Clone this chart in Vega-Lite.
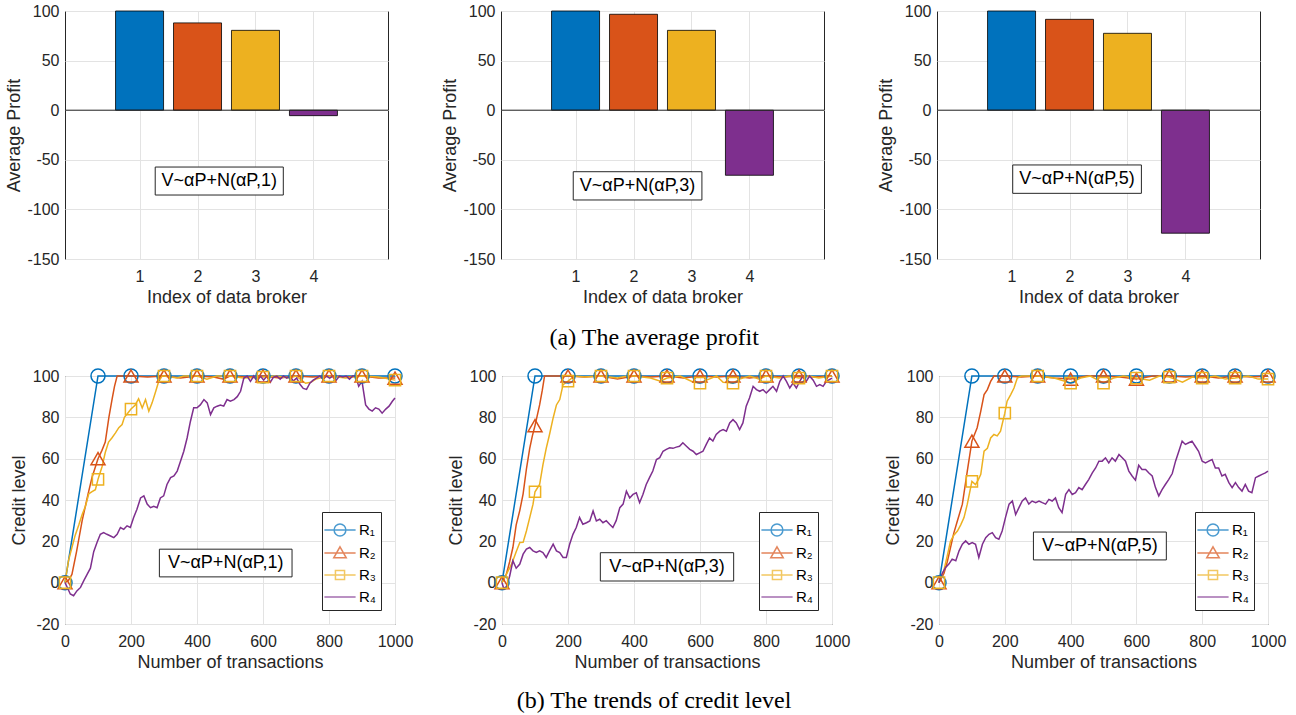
{
"$schema": "https://vega.github.io/schema/vega-lite/v6.json",
"padding": {"left": 5, "top": 2, "right": 5, "bottom": 5},
"config": {
 "font": "Liberation Sans",
 "view": {"stroke": "#262626", "strokeWidth": 1},
 "axis": {"domain": false, "ticks": false, "tickSize": 0, "grid": true, "gridColor": "#e3e3e3", "gridWidth": 1, "labelFont": "Liberation Sans", "labelFontSize": 16, "labelColor": "#262626", "titleFont": "Liberation Sans", "titleFontSize": 18, "titleFontWeight": "normal", "titleColor": "#262626", "labelPadding": 9, "titlePadding": 4, "labelFlush": false},
 "axisY": {"labelPadding": 6, "titlePadding": 3},
 "legend": {"orient": "bottom-right", "offset": 14, "strokeColor": "#262626", "fillColor": "#ffffff", "padding": 5, "symbolSize": 576, "symbolStrokeWidth": 1.5, "labelFontSize": 15, "labelColor": "#000000", "labelFont": "Liberation Sans", "rowPadding": 1, "labelOffset": 6, "cornerRadius": 0}
},
"datasets": {
 "bars": [
  {"g":1,"b":1,"v":100},{"g":1,"b":2,"v":88},{"g":1,"b":3,"v":80.5},{"g":1,"b":4,"v":-5.5},
  {"g":2,"b":1,"v":100},{"g":2,"b":2,"v":96.7},{"g":2,"b":3,"v":80.5},{"g":2,"b":4,"v":-65.6},
  {"g":3,"b":1,"v":100},{"g":3,"b":2,"v":91.6},{"g":3,"b":3,"v":77.5},{"g":3,"b":4,"v":-124}
 ],
 "lines": [
  {"g":1,"s":"R₁","x":0,"y":0},{"g":1,"s":"R₁","x":100,"y":100},{"g":1,"s":"R₁","x":200,"y":100},{"g":1,"s":"R₁","x":300,"y":100},{"g":1,"s":"R₁","x":400,"y":100},{"g":1,"s":"R₁","x":500,"y":100},{"g":1,"s":"R₁","x":600,"y":100},{"g":1,"s":"R₁","x":700,"y":100},{"g":1,"s":"R₁","x":800,"y":100},{"g":1,"s":"R₁","x":900,"y":100},{"g":1,"s":"R₁","x":1000,"y":100},
  {"g":1,"s":"R₂","x":0,"y":0},{"g":1,"s":"R₂","x":10,"y":1},{"g":1,"s":"R₂","x":21,"y":4},{"g":1,"s":"R₂","x":35,"y":15},{"g":1,"s":"R₂","x":52,"y":30},{"g":1,"s":"R₂","x":70,"y":43},{"g":1,"s":"R₂","x":82,"y":51},{"g":1,"s":"R₂","x":100,"y":60},{"g":1,"s":"R₂","x":112,"y":64},{"g":1,"s":"R₂","x":122,"y":68},{"g":1,"s":"R₂","x":133,"y":80},{"g":1,"s":"R₂","x":143,"y":89},{"g":1,"s":"R₂","x":150,"y":95},{"g":1,"s":"R₂","x":158,"y":100},{"g":1,"s":"R₂","x":200,"y":100},{"g":1,"s":"R₂","x":250,"y":99.5},{"g":1,"s":"R₂","x":300,"y":100},{"g":1,"s":"R₂","x":350,"y":99},{"g":1,"s":"R₂","x":400,"y":100},{"g":1,"s":"R₂","x":450,"y":99.5},{"g":1,"s":"R₂","x":480,"y":98.5},{"g":1,"s":"R₂","x":500,"y":100},{"g":1,"s":"R₂","x":550,"y":99.5},{"g":1,"s":"R₂","x":600,"y":100},{"g":1,"s":"R₂","x":650,"y":99},{"g":1,"s":"R₂","x":700,"y":100},{"g":1,"s":"R₂","x":750,"y":99.5},{"g":1,"s":"R₂","x":800,"y":100},{"g":1,"s":"R₂","x":850,"y":99.5},{"g":1,"s":"R₂","x":900,"y":100},{"g":1,"s":"R₂","x":950,"y":99},{"g":1,"s":"R₂","x":1000,"y":99},
  {"g":1,"s":"R₃","x":0,"y":0},{"g":1,"s":"R₃","x":11,"y":11},{"g":1,"s":"R₃","x":21,"y":17},{"g":1,"s":"R₃","x":31,"y":23},{"g":1,"s":"R₃","x":42,"y":28},{"g":1,"s":"R₃","x":52,"y":33},{"g":1,"s":"R₃","x":62,"y":37},{"g":1,"s":"R₃","x":72,"y":43},{"g":1,"s":"R₃","x":82,"y":44},{"g":1,"s":"R₃","x":92,"y":45},{"g":1,"s":"R₃","x":100,"y":50},{"g":1,"s":"R₃","x":112,"y":56},{"g":1,"s":"R₃","x":122,"y":63},{"g":1,"s":"R₃","x":132,"y":68},{"g":1,"s":"R₃","x":142,"y":70},{"g":1,"s":"R₃","x":153,"y":72.5},{"g":1,"s":"R₃","x":163,"y":75},{"g":1,"s":"R₃","x":173,"y":76.5},{"g":1,"s":"R₃","x":180,"y":80},{"g":1,"s":"R₃","x":190,"y":82},{"g":1,"s":"R₃","x":200,"y":84},{"g":1,"s":"R₃","x":213,"y":86},{"g":1,"s":"R₃","x":223,"y":89},{"g":1,"s":"R₃","x":234,"y":84.5},{"g":1,"s":"R₃","x":244,"y":88.6},{"g":1,"s":"R₃","x":254,"y":83},{"g":1,"s":"R₃","x":264,"y":87},{"g":1,"s":"R₃","x":275,"y":92.6},{"g":1,"s":"R₃","x":284,"y":97.4},{"g":1,"s":"R₃","x":294,"y":100},{"g":1,"s":"R₃","x":300,"y":100},{"g":1,"s":"R₃","x":340,"y":99},{"g":1,"s":"R₃","x":360,"y":100},{"g":1,"s":"R₃","x":400,"y":100},{"g":1,"s":"R₃","x":430,"y":98.5},{"g":1,"s":"R₃","x":460,"y":100},{"g":1,"s":"R₃","x":500,"y":100},{"g":1,"s":"R₃","x":540,"y":99},{"g":1,"s":"R₃","x":600,"y":99.5},{"g":1,"s":"R₃","x":640,"y":100},{"g":1,"s":"R₃","x":680,"y":99},{"g":1,"s":"R₃","x":700,"y":100},{"g":1,"s":"R₃","x":729,"y":96.5},{"g":1,"s":"R₃","x":745,"y":97},{"g":1,"s":"R₃","x":760,"y":98.5},{"g":1,"s":"R₃","x":800,"y":100},{"g":1,"s":"R₃","x":850,"y":99},{"g":1,"s":"R₃","x":900,"y":100},{"g":1,"s":"R₃","x":950,"y":99.5},{"g":1,"s":"R₃","x":1000,"y":98},
  {"g":1,"s":"R₄","x":0,"y":0},{"g":1,"s":"R₄","x":6,"y":-2},{"g":1,"s":"R₄","x":16,"y":-5.5},{"g":1,"s":"R₄","x":26,"y":-6.3},{"g":1,"s":"R₄","x":36,"y":-4},{"g":1,"s":"R₄","x":47,"y":-2.3},{"g":1,"s":"R₄","x":57,"y":1},{"g":1,"s":"R₄","x":67,"y":4},{"g":1,"s":"R₄","x":77,"y":7},{"g":1,"s":"R₄","x":87,"y":15},{"g":1,"s":"R₄","x":97,"y":19.4},{"g":1,"s":"R₄","x":107,"y":23.4},{"g":1,"s":"R₄","x":117,"y":24.2},{"g":1,"s":"R₄","x":127,"y":23.4},{"g":1,"s":"R₄","x":138,"y":22.6},{"g":1,"s":"R₄","x":148,"y":21.8},{"g":1,"s":"R₄","x":158,"y":23.4},{"g":1,"s":"R₄","x":168,"y":26.7},{"g":1,"s":"R₄","x":178,"y":25.8},{"g":1,"s":"R₄","x":188,"y":27.5},{"g":1,"s":"R₄","x":198,"y":26.7},{"g":1,"s":"R₄","x":208,"y":31.5},{"g":1,"s":"R₄","x":218,"y":35.5},{"g":1,"s":"R₄","x":229,"y":41},{"g":1,"s":"R₄","x":239,"y":42},{"g":1,"s":"R₄","x":249,"y":38},{"g":1,"s":"R₄","x":259,"y":36.3},{"g":1,"s":"R₄","x":269,"y":37},{"g":1,"s":"R₄","x":279,"y":36.3},{"g":1,"s":"R₄","x":289,"y":41},{"g":1,"s":"R₄","x":299,"y":42},{"g":1,"s":"R₄","x":309,"y":47.5},{"g":1,"s":"R₄","x":320,"y":50.8},{"g":1,"s":"R₄","x":330,"y":51.6},{"g":1,"s":"R₄","x":340,"y":54},{"g":1,"s":"R₄","x":350,"y":58.8},{"g":1,"s":"R₄","x":360,"y":63.6},{"g":1,"s":"R₄","x":370,"y":70},{"g":1,"s":"R₄","x":380,"y":78},{"g":1,"s":"R₄","x":390,"y":84.6},{"g":1,"s":"R₄","x":400,"y":84.6},{"g":1,"s":"R₄","x":410,"y":86},{"g":1,"s":"R₄","x":421,"y":88.6},{"g":1,"s":"R₄","x":431,"y":87},{"g":1,"s":"R₄","x":441,"y":81.3},{"g":1,"s":"R₄","x":451,"y":84.6},{"g":1,"s":"R₄","x":461,"y":85.4},{"g":1,"s":"R₄","x":471,"y":86},{"g":1,"s":"R₄","x":481,"y":85.4},{"g":1,"s":"R₄","x":491,"y":88.6},{"g":1,"s":"R₄","x":501,"y":87.8},{"g":1,"s":"R₄","x":512,"y":88.6},{"g":1,"s":"R₄","x":522,"y":90},{"g":1,"s":"R₄","x":532,"y":92.6},{"g":1,"s":"R₄","x":542,"y":99},{"g":1,"s":"R₄","x":552,"y":100},{"g":1,"s":"R₄","x":562,"y":97.4},{"g":1,"s":"R₄","x":572,"y":100},{"g":1,"s":"R₄","x":582,"y":97.4},{"g":1,"s":"R₄","x":592,"y":100},{"g":1,"s":"R₄","x":602,"y":98},{"g":1,"s":"R₄","x":612,"y":100},{"g":1,"s":"R₄","x":622,"y":97},{"g":1,"s":"R₄","x":632,"y":99.5},{"g":1,"s":"R₄","x":642,"y":100},{"g":1,"s":"R₄","x":652,"y":98.5},{"g":1,"s":"R₄","x":662,"y":100},{"g":1,"s":"R₄","x":672,"y":99},{"g":1,"s":"R₄","x":682,"y":100},{"g":1,"s":"R₄","x":692,"y":97.5},{"g":1,"s":"R₄","x":702,"y":99},{"g":1,"s":"R₄","x":712,"y":96},{"g":1,"s":"R₄","x":722,"y":94},{"g":1,"s":"R₄","x":732,"y":93.5},{"g":1,"s":"R₄","x":742,"y":96.5},{"g":1,"s":"R₄","x":752,"y":98},{"g":1,"s":"R₄","x":762,"y":99},{"g":1,"s":"R₄","x":772,"y":100},{"g":1,"s":"R₄","x":782,"y":98.5},{"g":1,"s":"R₄","x":792,"y":100},{"g":1,"s":"R₄","x":802,"y":99},{"g":1,"s":"R₄","x":812,"y":100},{"g":1,"s":"R₄","x":822,"y":98},{"g":1,"s":"R₄","x":832,"y":100},{"g":1,"s":"R₄","x":842,"y":99.5},{"g":1,"s":"R₄","x":852,"y":100},{"g":1,"s":"R₄","x":862,"y":98.5},{"g":1,"s":"R₄","x":872,"y":100},{"g":1,"s":"R₄","x":881,"y":100},{"g":1,"s":"R₄","x":890,"y":95},{"g":1,"s":"R₄","x":900,"y":97.4},{"g":1,"s":"R₄","x":911,"y":86},{"g":1,"s":"R₄","x":921,"y":84},{"g":1,"s":"R₄","x":931,"y":83},{"g":1,"s":"R₄","x":941,"y":84.6},{"g":1,"s":"R₄","x":951,"y":84},{"g":1,"s":"R₄","x":961,"y":82},{"g":1,"s":"R₄","x":972,"y":84},{"g":1,"s":"R₄","x":982,"y":85.4},{"g":1,"s":"R₄","x":992,"y":87.8},{"g":1,"s":"R₄","x":1000,"y":89.4},

  {"g":2,"s":"R₁","x":0,"y":0},{"g":2,"s":"R₁","x":100,"y":100},{"g":2,"s":"R₁","x":200,"y":100},{"g":2,"s":"R₁","x":300,"y":100},{"g":2,"s":"R₁","x":400,"y":100},{"g":2,"s":"R₁","x":500,"y":100},{"g":2,"s":"R₁","x":600,"y":100},{"g":2,"s":"R₁","x":700,"y":100},{"g":2,"s":"R₁","x":800,"y":100},{"g":2,"s":"R₁","x":900,"y":100},{"g":2,"s":"R₁","x":1000,"y":100},
  {"g":2,"s":"R₂","x":0,"y":0},{"g":2,"s":"R₂","x":13,"y":4},{"g":2,"s":"R₂","x":23,"y":10},{"g":2,"s":"R₂","x":33,"y":17},{"g":2,"s":"R₂","x":43,"y":28},{"g":2,"s":"R₂","x":54,"y":35},{"g":2,"s":"R₂","x":64,"y":43},{"g":2,"s":"R₂","x":74,"y":55},{"g":2,"s":"R₂","x":84,"y":65},{"g":2,"s":"R₂","x":92,"y":71},{"g":2,"s":"R₂","x":100,"y":76},{"g":2,"s":"R₂","x":114,"y":86},{"g":2,"s":"R₂","x":122,"y":93},{"g":2,"s":"R₂","x":129,"y":100},{"g":2,"s":"R₂","x":200,"y":100},{"g":2,"s":"R₂","x":250,"y":99.5},{"g":2,"s":"R₂","x":300,"y":100},{"g":2,"s":"R₂","x":350,"y":98.5},{"g":2,"s":"R₂","x":400,"y":100},{"g":2,"s":"R₂","x":450,"y":99.5},{"g":2,"s":"R₂","x":500,"y":100},{"g":2,"s":"R₂","x":550,"y":99},{"g":2,"s":"R₂","x":600,"y":100},{"g":2,"s":"R₂","x":650,"y":99.5},{"g":2,"s":"R₂","x":700,"y":100},{"g":2,"s":"R₂","x":750,"y":99},{"g":2,"s":"R₂","x":800,"y":100},{"g":2,"s":"R₂","x":850,"y":99.5},{"g":2,"s":"R₂","x":900,"y":100},{"g":2,"s":"R₂","x":950,"y":99.5},{"g":2,"s":"R₂","x":1000,"y":100},
  {"g":2,"s":"R₃","x":0,"y":0},{"g":2,"s":"R₃","x":13,"y":4},{"g":2,"s":"R₃","x":23,"y":7},{"g":2,"s":"R₃","x":33,"y":10.6},{"g":2,"s":"R₃","x":43,"y":15},{"g":2,"s":"R₃","x":54,"y":19.4},{"g":2,"s":"R₃","x":64,"y":19.5},{"g":2,"s":"R₃","x":74,"y":25},{"g":2,"s":"R₃","x":84,"y":31.5},{"g":2,"s":"R₃","x":94,"y":38},{"g":2,"s":"R₃","x":100,"y":44},{"g":2,"s":"R₃","x":114,"y":47.5},{"g":2,"s":"R₃","x":124,"y":57},{"g":2,"s":"R₃","x":134,"y":65},{"g":2,"s":"R₃","x":144,"y":71.7},{"g":2,"s":"R₃","x":155,"y":79.7},{"g":2,"s":"R₃","x":165,"y":86},{"g":2,"s":"R₃","x":175,"y":88.6},{"g":2,"s":"R₃","x":185,"y":95.8},{"g":2,"s":"R₃","x":200,"y":97.5},{"g":2,"s":"R₃","x":220,"y":100},{"g":2,"s":"R₃","x":250,"y":99.5},{"g":2,"s":"R₃","x":300,"y":100},{"g":2,"s":"R₃","x":350,"y":99},{"g":2,"s":"R₃","x":380,"y":100},{"g":2,"s":"R₃","x":400,"y":100},{"g":2,"s":"R₃","x":450,"y":99},{"g":2,"s":"R₃","x":480,"y":97.5},{"g":2,"s":"R₃","x":500,"y":99},{"g":2,"s":"R₃","x":540,"y":100},{"g":2,"s":"R₃","x":580,"y":97},{"g":2,"s":"R₃","x":600,"y":96.6},{"g":2,"s":"R₃","x":620,"y":98},{"g":2,"s":"R₃","x":650,"y":100},{"g":2,"s":"R₃","x":670,"y":97},{"g":2,"s":"R₃","x":700,"y":96.6},{"g":2,"s":"R₃","x":720,"y":98.5},{"g":2,"s":"R₃","x":750,"y":100},{"g":2,"s":"R₃","x":780,"y":98.5},{"g":2,"s":"R₃","x":800,"y":100},{"g":2,"s":"R₃","x":840,"y":99},{"g":2,"s":"R₃","x":870,"y":100},{"g":2,"s":"R₃","x":900,"y":99},{"g":2,"s":"R₃","x":930,"y":100},{"g":2,"s":"R₃","x":960,"y":99},{"g":2,"s":"R₃","x":1000,"y":100},
  {"g":2,"s":"R₄","x":0,"y":0},{"g":2,"s":"R₄","x":5,"y":-2.7},{"g":2,"s":"R₄","x":13,"y":-2},{"g":2,"s":"R₄","x":23,"y":3},{"g":2,"s":"R₄","x":33,"y":10.6},{"g":2,"s":"R₄","x":43,"y":7},{"g":2,"s":"R₄","x":54,"y":9},{"g":2,"s":"R₄","x":64,"y":13.8},{"g":2,"s":"R₄","x":74,"y":16.2},{"g":2,"s":"R₄","x":84,"y":17},{"g":2,"s":"R₄","x":94,"y":15.4},{"g":2,"s":"R₄","x":104,"y":14.6},{"g":2,"s":"R₄","x":114,"y":15.4},{"g":2,"s":"R₄","x":124,"y":14.6},{"g":2,"s":"R₄","x":134,"y":12.2},{"g":2,"s":"R₄","x":144,"y":15.4},{"g":2,"s":"R₄","x":155,"y":18.6},{"g":2,"s":"R₄","x":165,"y":15.4},{"g":2,"s":"R₄","x":175,"y":14.6},{"g":2,"s":"R₄","x":185,"y":12.2},{"g":2,"s":"R₄","x":195,"y":12.2},{"g":2,"s":"R₄","x":205,"y":18.6},{"g":2,"s":"R₄","x":215,"y":23.4},{"g":2,"s":"R₄","x":225,"y":26.7},{"g":2,"s":"R₄","x":235,"y":31.5},{"g":2,"s":"R₄","x":245,"y":28.3},{"g":2,"s":"R₄","x":256,"y":29},{"g":2,"s":"R₄","x":266,"y":29.9},{"g":2,"s":"R₄","x":276,"y":34.7},{"g":2,"s":"R₄","x":286,"y":29.9},{"g":2,"s":"R₄","x":296,"y":30.7},{"g":2,"s":"R₄","x":306,"y":29},{"g":2,"s":"R₄","x":316,"y":30},{"g":2,"s":"R₄","x":326,"y":28.3},{"g":2,"s":"R₄","x":336,"y":26.7},{"g":2,"s":"R₄","x":346,"y":30},{"g":2,"s":"R₄","x":357,"y":36.3},{"g":2,"s":"R₄","x":367,"y":38},{"g":2,"s":"R₄","x":377,"y":44.3},{"g":2,"s":"R₄","x":387,"y":41},{"g":2,"s":"R₄","x":397,"y":42.7},{"g":2,"s":"R₄","x":407,"y":43.5},{"g":2,"s":"R₄","x":417,"y":38.7},{"g":2,"s":"R₄","x":427,"y":42.7},{"g":2,"s":"R₄","x":437,"y":47.5},{"g":2,"s":"R₄","x":447,"y":50.8},{"g":2,"s":"R₄","x":457,"y":54},{"g":2,"s":"R₄","x":468,"y":59.6},{"g":2,"s":"R₄","x":478,"y":60.5},{"g":2,"s":"R₄","x":488,"y":63.6},{"g":2,"s":"R₄","x":498,"y":64.5},{"g":2,"s":"R₄","x":508,"y":65.3},{"g":2,"s":"R₄","x":518,"y":65},{"g":2,"s":"R₄","x":528,"y":65.6},{"g":2,"s":"R₄","x":538,"y":66},{"g":2,"s":"R₄","x":548,"y":67.7},{"g":2,"s":"R₄","x":559,"y":66},{"g":2,"s":"R₄","x":569,"y":64.5},{"g":2,"s":"R₄","x":579,"y":63.6},{"g":2,"s":"R₄","x":589,"y":62},{"g":2,"s":"R₄","x":599,"y":62.8},{"g":2,"s":"R₄","x":609,"y":63.6},{"g":2,"s":"R₄","x":619,"y":66.9},{"g":2,"s":"R₄","x":629,"y":70},{"g":2,"s":"R₄","x":639,"y":68.5},{"g":2,"s":"R₄","x":649,"y":71.7},{"g":2,"s":"R₄","x":660,"y":73.3},{"g":2,"s":"R₄","x":670,"y":74.1},{"g":2,"s":"R₄","x":680,"y":73.3},{"g":2,"s":"R₄","x":690,"y":77.3},{"g":2,"s":"R₄","x":700,"y":78.9},{"g":2,"s":"R₄","x":710,"y":77.3},{"g":2,"s":"R₄","x":720,"y":74.1},{"g":2,"s":"R₄","x":730,"y":77.3},{"g":2,"s":"R₄","x":740,"y":85.4},{"g":2,"s":"R₄","x":750,"y":89.4},{"g":2,"s":"R₄","x":761,"y":95},{"g":2,"s":"R₄","x":771,"y":93.4},{"g":2,"s":"R₄","x":781,"y":92.6},{"g":2,"s":"R₄","x":791,"y":93.4},{"g":2,"s":"R₄","x":801,"y":91.8},{"g":2,"s":"R₄","x":811,"y":93.4},{"g":2,"s":"R₄","x":821,"y":95},{"g":2,"s":"R₄","x":832,"y":92.6},{"g":2,"s":"R₄","x":842,"y":97.4},{"g":2,"s":"R₄","x":852,"y":100},{"g":2,"s":"R₄","x":862,"y":97.4},{"g":2,"s":"R₄","x":872,"y":94.2},{"g":2,"s":"R₄","x":882,"y":96.6},{"g":2,"s":"R₄","x":892,"y":94.2},{"g":2,"s":"R₄","x":902,"y":97.4},{"g":2,"s":"R₄","x":912,"y":100},{"g":2,"s":"R₄","x":922,"y":97.4},{"g":2,"s":"R₄","x":932,"y":100},{"g":2,"s":"R₄","x":943,"y":98},{"g":2,"s":"R₄","x":953,"y":95},{"g":2,"s":"R₄","x":963,"y":95.8},{"g":2,"s":"R₄","x":973,"y":95},{"g":2,"s":"R₄","x":983,"y":97.4},{"g":2,"s":"R₄","x":1000,"y":99},

  {"g":3,"s":"R₁","x":0,"y":0},{"g":3,"s":"R₁","x":100,"y":100},{"g":3,"s":"R₁","x":200,"y":100},{"g":3,"s":"R₁","x":300,"y":100},{"g":3,"s":"R₁","x":400,"y":100},{"g":3,"s":"R₁","x":500,"y":100},{"g":3,"s":"R₁","x":600,"y":100},{"g":3,"s":"R₁","x":700,"y":100},{"g":3,"s":"R₁","x":800,"y":100},{"g":3,"s":"R₁","x":900,"y":100},{"g":3,"s":"R₁","x":1000,"y":100},
  {"g":3,"s":"R₂","x":0,"y":0},{"g":3,"s":"R₂","x":15,"y":4.5},{"g":3,"s":"R₂","x":25,"y":10},{"g":3,"s":"R₂","x":35,"y":17},{"g":3,"s":"R₂","x":45,"y":24},{"g":3,"s":"R₂","x":56,"y":30},{"g":3,"s":"R₂","x":71,"y":38},{"g":3,"s":"R₂","x":86,"y":54},{"g":3,"s":"R₂","x":100,"y":68.5},{"g":3,"s":"R₂","x":116,"y":75},{"g":3,"s":"R₂","x":127,"y":83},{"g":3,"s":"R₂","x":137,"y":91},{"g":3,"s":"R₂","x":147,"y":93.4},{"g":3,"s":"R₂","x":157,"y":97.4},{"g":3,"s":"R₂","x":167,"y":100},{"g":3,"s":"R₂","x":200,"y":100},{"g":3,"s":"R₂","x":250,"y":99.5},{"g":3,"s":"R₂","x":300,"y":100},{"g":3,"s":"R₂","x":350,"y":99},{"g":3,"s":"R₂","x":400,"y":98.5},{"g":3,"s":"R₂","x":450,"y":100},{"g":3,"s":"R₂","x":500,"y":100},{"g":3,"s":"R₂","x":550,"y":99.5},{"g":3,"s":"R₂","x":600,"y":98.5},{"g":3,"s":"R₂","x":650,"y":100},{"g":3,"s":"R₂","x":700,"y":100},{"g":3,"s":"R₂","x":750,"y":99.5},{"g":3,"s":"R₂","x":800,"y":100},{"g":3,"s":"R₂","x":850,"y":99},{"g":3,"s":"R₂","x":900,"y":100},{"g":3,"s":"R₂","x":950,"y":99.5},{"g":3,"s":"R₂","x":1000,"y":100},
  {"g":3,"s":"R₃","x":0,"y":0},{"g":3,"s":"R₃","x":15,"y":6},{"g":3,"s":"R₃","x":25,"y":13},{"g":3,"s":"R₃","x":35,"y":20},{"g":3,"s":"R₃","x":45,"y":23},{"g":3,"s":"R₃","x":56,"y":25},{"g":3,"s":"R₃","x":66,"y":28},{"g":3,"s":"R₃","x":76,"y":31.5},{"g":3,"s":"R₃","x":86,"y":38},{"g":3,"s":"R₃","x":100,"y":49},{"g":3,"s":"R₃","x":111,"y":47.5},{"g":3,"s":"R₃","x":120,"y":50},{"g":3,"s":"R₃","x":127,"y":52.4},{"g":3,"s":"R₃","x":137,"y":63.6},{"g":3,"s":"R₃","x":147,"y":65},{"g":3,"s":"R₃","x":157,"y":70},{"g":3,"s":"R₃","x":167,"y":71.7},{"g":3,"s":"R₃","x":177,"y":71},{"g":3,"s":"R₃","x":187,"y":73.3},{"g":3,"s":"R₃","x":200,"y":82},{"g":3,"s":"R₃","x":207,"y":87.8},{"g":3,"s":"R₃","x":218,"y":91},{"g":3,"s":"R₃","x":228,"y":94.2},{"g":3,"s":"R₃","x":238,"y":99},{"g":3,"s":"R₃","x":250,"y":100},{"g":3,"s":"R₃","x":300,"y":100},{"g":3,"s":"R₃","x":350,"y":99},{"g":3,"s":"R₃","x":400,"y":96.6},{"g":3,"s":"R₃","x":430,"y":99},{"g":3,"s":"R₃","x":460,"y":100},{"g":3,"s":"R₃","x":500,"y":96.6},{"g":3,"s":"R₃","x":530,"y":99},{"g":3,"s":"R₃","x":560,"y":100},{"g":3,"s":"R₃","x":600,"y":99},{"g":3,"s":"R₃","x":640,"y":98},{"g":3,"s":"R₃","x":670,"y":100},{"g":3,"s":"R₃","x":700,"y":99.5},{"g":3,"s":"R₃","x":740,"y":97},{"g":3,"s":"R₃","x":770,"y":99.5},{"g":3,"s":"R₃","x":800,"y":99},{"g":3,"s":"R₃","x":840,"y":100},{"g":3,"s":"R₃","x":870,"y":98.5},{"g":3,"s":"R₃","x":900,"y":99},{"g":3,"s":"R₃","x":940,"y":100},{"g":3,"s":"R₃","x":970,"y":98.5},{"g":3,"s":"R₃","x":1000,"y":98.5},
  {"g":3,"s":"R₄","x":0,"y":0},{"g":3,"s":"R₄","x":10,"y":4.5},{"g":3,"s":"R₄","x":20,"y":7.4},{"g":3,"s":"R₄","x":30,"y":9},{"g":3,"s":"R₄","x":40,"y":11.4},{"g":3,"s":"R₄","x":51,"y":10.6},{"g":3,"s":"R₄","x":61,"y":15.4},{"g":3,"s":"R₄","x":71,"y":18.6},{"g":3,"s":"R₄","x":81,"y":20.2},{"g":3,"s":"R₄","x":91,"y":18.6},{"g":3,"s":"R₄","x":101,"y":19.4},{"g":3,"s":"R₄","x":111,"y":18.6},{"g":3,"s":"R₄","x":121,"y":12.2},{"g":3,"s":"R₄","x":132,"y":18.6},{"g":3,"s":"R₄","x":142,"y":21.8},{"g":3,"s":"R₄","x":152,"y":23.4},{"g":3,"s":"R₄","x":162,"y":24.2},{"g":3,"s":"R₄","x":172,"y":21.8},{"g":3,"s":"R₄","x":182,"y":21},{"g":3,"s":"R₄","x":192,"y":25},{"g":3,"s":"R₄","x":202,"y":31.5},{"g":3,"s":"R₄","x":213,"y":38},{"g":3,"s":"R₄","x":223,"y":39.5},{"g":3,"s":"R₄","x":233,"y":33},{"g":3,"s":"R₄","x":243,"y":36.3},{"g":3,"s":"R₄","x":253,"y":39.5},{"g":3,"s":"R₄","x":263,"y":41},{"g":3,"s":"R₄","x":273,"y":38},{"g":3,"s":"R₄","x":283,"y":39.5},{"g":3,"s":"R₄","x":294,"y":38.7},{"g":3,"s":"R₄","x":304,"y":39.5},{"g":3,"s":"R₄","x":314,"y":38.7},{"g":3,"s":"R₄","x":324,"y":38},{"g":3,"s":"R₄","x":334,"y":40.3},{"g":3,"s":"R₄","x":344,"y":39.5},{"g":3,"s":"R₄","x":354,"y":41},{"g":3,"s":"R₄","x":364,"y":36.3},{"g":3,"s":"R₄","x":374,"y":33.9},{"g":3,"s":"R₄","x":385,"y":42.7},{"g":3,"s":"R₄","x":395,"y":45},{"g":3,"s":"R₄","x":405,"y":42.7},{"g":3,"s":"R₄","x":415,"y":43.5},{"g":3,"s":"R₄","x":425,"y":46},{"g":3,"s":"R₄","x":435,"y":45},{"g":3,"s":"R₄","x":445,"y":47.5},{"g":3,"s":"R₄","x":455,"y":49.9},{"g":3,"s":"R₄","x":466,"y":53.1},{"g":3,"s":"R₄","x":476,"y":55.5},{"g":3,"s":"R₄","x":486,"y":58.8},{"g":3,"s":"R₄","x":496,"y":58.8},{"g":3,"s":"R₄","x":506,"y":60.4},{"g":3,"s":"R₄","x":516,"y":58},{"g":3,"s":"R₄","x":526,"y":60.4},{"g":3,"s":"R₄","x":536,"y":58.8},{"g":3,"s":"R₄","x":547,"y":62},{"g":3,"s":"R₄","x":557,"y":60.4},{"g":3,"s":"R₄","x":567,"y":58.8},{"g":3,"s":"R₄","x":577,"y":54},{"g":3,"s":"R₄","x":587,"y":51.6},{"g":3,"s":"R₄","x":597,"y":49.6},{"g":3,"s":"R₄","x":607,"y":56.8},{"g":3,"s":"R₄","x":617,"y":54.8},{"g":3,"s":"R₄","x":628,"y":54.8},{"g":3,"s":"R₄","x":638,"y":53.1},{"g":3,"s":"R₄","x":648,"y":51.6},{"g":3,"s":"R₄","x":658,"y":46},{"g":3,"s":"R₄","x":668,"y":42},{"g":3,"s":"R₄","x":678,"y":45},{"g":3,"s":"R₄","x":688,"y":47.5},{"g":3,"s":"R₄","x":698,"y":49.9},{"g":3,"s":"R₄","x":709,"y":52.8},{"g":3,"s":"R₄","x":719,"y":58.8},{"g":3,"s":"R₄","x":729,"y":63.6},{"g":3,"s":"R₄","x":739,"y":68.5},{"g":3,"s":"R₄","x":749,"y":66.9},{"g":3,"s":"R₄","x":759,"y":67.7},{"g":3,"s":"R₄","x":769,"y":68.5},{"g":3,"s":"R₄","x":779,"y":66},{"g":3,"s":"R₄","x":789,"y":63.6},{"g":3,"s":"R₄","x":800,"y":58.8},{"g":3,"s":"R₄","x":810,"y":58},{"g":3,"s":"R₄","x":820,"y":58.8},{"g":3,"s":"R₄","x":830,"y":59.6},{"g":3,"s":"R₄","x":840,"y":55.5},{"g":3,"s":"R₄","x":850,"y":55.5},{"g":3,"s":"R₄","x":860,"y":51.6},{"g":3,"s":"R₄","x":870,"y":52.4},{"g":3,"s":"R₄","x":881,"y":48.4},{"g":3,"s":"R₄","x":891,"y":46},{"g":3,"s":"R₄","x":901,"y":48.4},{"g":3,"s":"R₄","x":911,"y":46},{"g":3,"s":"R₄","x":921,"y":44.3},{"g":3,"s":"R₄","x":931,"y":47.5},{"g":3,"s":"R₄","x":941,"y":44.3},{"g":3,"s":"R₄","x":951,"y":43.5},{"g":3,"s":"R₄","x":962,"y":50.8},{"g":3,"s":"R₄","x":972,"y":51.6},{"g":3,"s":"R₄","x":982,"y":52.4},{"g":3,"s":"R₄","x":992,"y":53.1},{"g":3,"s":"R₄","x":1000,"y":54}
 ]
},
"columns": 1,
"align": "none",
"spacing": 15,
"concat": [
 {
  "title": {"text": "(a) The average profit", "orient": "bottom", "anchor": "middle", "font": "Liberation Serif", "fontSize": 24, "fontWeight": "normal", "color": "#000000", "offset": 19, "dx": 21},
  "spacing": 52,
  "hconcat": [
   {"width": 323, "height": 248, "layer": [
    {"data": {"name": "bars"}, "transform": [{"filter": "datum.g == 1"}], "mark": {"type": "bar", "size": 48, "stroke": "#000000", "strokeWidth": 0.8},
     "encoding": {
      "x": {"field": "b", "type": "quantitative", "title": "Index of data broker", "scale": {"domain": [-0.2, 5.2], "nice": false, "zero": false}, "axis": {"values": [1,2,3,4], "labelExpr": "'' + datum.value"}},
      "y": {"field": "v", "type": "quantitative", "title": "Average Profit", "scale": {"domain": [-150, 100], "nice": false}, "axis": {"values": [-150,-100,-50,0,50,100], "labelExpr": "'' + datum.value"}},
      "color": {"field": "b", "type": "nominal", "scale": {"domain": [1,2,3,4], "range": ["#0072BD","#D95319","#EDB120","#7E2F8E"]}, "legend": null}}},
    {"data": {"values": [{}]}, "mark": {"type": "rule", "color": "#262626", "strokeWidth": 1}, "encoding": {"y": {"datum": 0, "title": "Average Profit"}}},
    {"data": {"values": [{}]}, "mark": {"type": "rect", "fill": "#ffffff", "stroke": "#262626", "strokeWidth": 1}, "encoding": {"x": {"datum": 1.27, "title": "Index of data broker"}, "x2": {"datum": 3.48}, "y": {"datum": -57.3, "title": "Average Profit"}, "y2": {"datum": -85.5}}},
    {"data": {"values": [{}]}, "mark": {"type": "text", "fontSize": 18, "color": "#000000", "font": "Liberation Sans"}, "encoding": {"x": {"datum": 2.375, "title": "Index of data broker"}, "y": {"datum": -71.4, "title": "Average Profit"}, "text": {"value": "V~αP+N(αP,1)"}}}
   ]},
   {"width": 323, "height": 248, "layer": [
    {"data": {"name": "bars"}, "transform": [{"filter": "datum.g == 2"}], "mark": {"type": "bar", "size": 48, "stroke": "#000000", "strokeWidth": 0.8},
     "encoding": {
      "x": {"field": "b", "type": "quantitative", "title": "Index of data broker", "scale": {"domain": [-0.2, 5.2], "nice": false, "zero": false}, "axis": {"values": [1,2,3,4], "labelExpr": "'' + datum.value"}},
      "y": {"field": "v", "type": "quantitative", "title": "Average Profit", "scale": {"domain": [-150, 100], "nice": false}, "axis": {"values": [-150,-100,-50,0,50,100], "labelExpr": "'' + datum.value"}},
      "color": {"field": "b", "type": "nominal", "scale": {"domain": [1,2,3,4], "range": ["#0072BD","#D95319","#EDB120","#7E2F8E"]}, "legend": null}}},
    {"data": {"values": [{}]}, "mark": {"type": "rule", "color": "#262626", "strokeWidth": 1}, "encoding": {"y": {"datum": 0, "title": "Average Profit"}}},
    {"data": {"values": [{}]}, "mark": {"type": "rect", "fill": "#ffffff", "stroke": "#262626", "strokeWidth": 1}, "encoding": {"x": {"datum": 0.96, "title": "Index of data broker"}, "x2": {"datum": 3.18}, "y": {"datum": -62, "title": "Average Profit"}, "y2": {"datum": -90.5}}},
    {"data": {"values": [{}]}, "mark": {"type": "text", "fontSize": 18, "color": "#000000", "font": "Liberation Sans"}, "encoding": {"x": {"datum": 2.07, "title": "Index of data broker"}, "y": {"datum": -76.25, "title": "Average Profit"}, "text": {"value": "V~αP+N(αP,3)"}}}
   ]},
   {"width": 323, "height": 248, "layer": [
    {"data": {"name": "bars"}, "transform": [{"filter": "datum.g == 3"}], "mark": {"type": "bar", "size": 48, "stroke": "#000000", "strokeWidth": 0.8},
     "encoding": {
      "x": {"field": "b", "type": "quantitative", "title": "Index of data broker", "scale": {"domain": [-0.2, 5.2], "nice": false, "zero": false}, "axis": {"values": [1,2,3,4], "labelExpr": "'' + datum.value"}},
      "y": {"field": "v", "type": "quantitative", "title": "Average Profit", "scale": {"domain": [-150, 100], "nice": false}, "axis": {"values": [-150,-100,-50,0,50,100], "labelExpr": "'' + datum.value"}},
      "color": {"field": "b", "type": "nominal", "scale": {"domain": [1,2,3,4], "range": ["#0072BD","#D95319","#EDB120","#7E2F8E"]}, "legend": null}}},
    {"data": {"values": [{}]}, "mark": {"type": "rule", "color": "#262626", "strokeWidth": 1}, "encoding": {"y": {"datum": 0, "title": "Average Profit"}}},
    {"data": {"values": [{}]}, "mark": {"type": "rect", "fill": "#ffffff", "stroke": "#262626", "strokeWidth": 1}, "encoding": {"x": {"datum": 1.02, "title": "Index of data broker"}, "x2": {"datum": 3.24}, "y": {"datum": -55.2, "title": "Average Profit"}, "y2": {"datum": -83.8}}},
    {"data": {"values": [{}]}, "mark": {"type": "text", "fontSize": 18, "color": "#000000", "font": "Liberation Sans"}, "encoding": {"x": {"datum": 2.13, "title": "Index of data broker"}, "y": {"datum": -69.5, "title": "Average Profit"}, "text": {"value": "V~αP+N(αP,5)"}}}
   ]}
  ]
 },
 {
  "title": {"text": "(b) The trends of credit level", "orient": "bottom", "anchor": "middle", "font": "Liberation Serif", "fontSize": 24, "fontWeight": "normal", "color": "#000000", "offset": 17, "dx": 6},
  "spacing": 32,
  "hconcat": [
   {"width": 330, "height": 248, "resolve": {"scale": {"color": "independent", "shape": "independent"}}, "layer": [
    {"data": {"name": "lines"}, "transform": [{"filter": "datum.g == 1"}], "mark": {"type": "line", "strokeWidth": 1.5},
     "encoding": {
      "x": {"field": "x", "type": "quantitative", "title": "Number of transactions", "scale": {"domain": [0, 1000], "nice": false, "zero": false}, "axis": {"values": [0,200,400,600,800,1000], "labelExpr": "'' + datum.value"}},
      "y": {"field": "y", "type": "quantitative", "title": "Credit level", "scale": {"domain": [-20, 100], "nice": false, "zero": false}, "axis": {"values": [-20,0,20,40,60,80,100], "labelExpr": "'' + datum.value", "titlePadding": 4}},
      "color": {"field": "s", "type": "nominal", "scale": {"domain": ["R₁","R₂","R₃","R₄"], "range": ["#0072BD","#D95319","#EDB120","#7E2F8E"]}, "legend": null}}},
    {"data": {"name": "lines"}, "transform": [{"filter": "datum.g == 1 && datum.s != 'R₄' && datum.x % 100 == 0"}], "mark": {"type": "point", "filled": false, "strokeWidth": 1.5, "size": 196, "opacity": 1},
     "encoding": {
      "x": {"field": "x", "type": "quantitative", "title": "Number of transactions"},
      "y": {"field": "y", "type": "quantitative", "title": "Credit level"},
      "color": {"field": "s", "type": "nominal", "scale": {"domain": ["R₁","R₂","R₃","R₄"], "range": ["#0072BD","#D95319","#EDB120","#7E2F8E"]}, "legend": null},
      "shape": {"field": "s", "type": "nominal", "scale": {"domain": ["R₁","R₂","R₃"], "range": ["circle","triangle-up","M-0.8,-0.8H0.8V0.8H-0.8Z"]}, "legend": null}}},
    {"data": {"name": "lines"}, "transform": [{"filter": "false"}], "mark": {"type": "point", "filled": false, "strokeWidth": 1.5},
     "encoding": {
      "x": {"field": "x", "type": "quantitative", "title": "Number of transactions"},
      "y": {"field": "y", "type": "quantitative", "title": "Credit level"},
      "color": {"field": "s", "type": "nominal", "title": null, "scale": {"domain": ["R₁","R₂","R₃","R₄"], "range": ["#0072BD","#D95319","#EDB120","#7E2F8E"]}},
      "shape": {"field": "s", "type": "nominal", "title": null, "scale": {"domain": ["R₁","R₂","R₃","R₄"], "range": ["M-1.3,0H1.3M0.49,0A0.49,0.49,0,1,1,-0.49,0A0.49,0.49,0,1,1,0.49,0","M-1.3,0H1.3M0,-0.52L0.52,0.4L-0.52,0.4Z","M-1.3,0H1.3M-0.38,-0.38H0.38V0.38H-0.38Z","M-1.3,0H1.3"]}}}},
    {"data": {"values": [{}]}, "mark": {"type": "rect", "fill": "#ffffff", "stroke": "#262626", "strokeWidth": 1}, "encoding": {"x": {"datum": 286, "title": "Number of transactions"}, "x2": {"datum": 688}, "y": {"datum": 16.2, "title": "Credit level"}, "y2": {"datum": 2.8}}},
    {"data": {"values": [{}]}, "mark": {"type": "text", "fontSize": 18, "color": "#000000", "font": "Liberation Sans"}, "encoding": {"x": {"datum": 487, "title": "Number of transactions"}, "y": {"datum": 9.5, "title": "Credit level"}, "text": {"value": "V~αP+N(αP,1)"}}}
   ]},
   {"width": 330, "height": 248, "resolve": {"scale": {"color": "independent", "shape": "independent"}}, "layer": [
    {"data": {"name": "lines"}, "transform": [{"filter": "datum.g == 2"}], "mark": {"type": "line", "strokeWidth": 1.5},
     "encoding": {
      "x": {"field": "x", "type": "quantitative", "title": "Number of transactions", "scale": {"domain": [0, 1000], "nice": false, "zero": false}, "axis": {"values": [0,200,400,600,800,1000], "labelExpr": "'' + datum.value"}},
      "y": {"field": "y", "type": "quantitative", "title": "Credit level", "scale": {"domain": [-20, 100], "nice": false, "zero": false}, "axis": {"values": [-20,0,20,40,60,80,100], "labelExpr": "'' + datum.value", "titlePadding": 4}},
      "color": {"field": "s", "type": "nominal", "scale": {"domain": ["R₁","R₂","R₃","R₄"], "range": ["#0072BD","#D95319","#EDB120","#7E2F8E"]}, "legend": null}}},
    {"data": {"name": "lines"}, "transform": [{"filter": "datum.g == 2 && datum.s != 'R₄' && datum.x % 100 == 0"}], "mark": {"type": "point", "filled": false, "strokeWidth": 1.5, "size": 196, "opacity": 1},
     "encoding": {
      "x": {"field": "x", "type": "quantitative", "title": "Number of transactions"},
      "y": {"field": "y", "type": "quantitative", "title": "Credit level"},
      "color": {"field": "s", "type": "nominal", "scale": {"domain": ["R₁","R₂","R₃","R₄"], "range": ["#0072BD","#D95319","#EDB120","#7E2F8E"]}, "legend": null},
      "shape": {"field": "s", "type": "nominal", "scale": {"domain": ["R₁","R₂","R₃"], "range": ["circle","triangle-up","M-0.8,-0.8H0.8V0.8H-0.8Z"]}, "legend": null}}},
    {"data": {"name": "lines"}, "transform": [{"filter": "false"}], "mark": {"type": "point", "filled": false, "strokeWidth": 1.5},
     "encoding": {
      "x": {"field": "x", "type": "quantitative", "title": "Number of transactions"},
      "y": {"field": "y", "type": "quantitative", "title": "Credit level"},
      "color": {"field": "s", "type": "nominal", "title": null, "scale": {"domain": ["R₁","R₂","R₃","R₄"], "range": ["#0072BD","#D95319","#EDB120","#7E2F8E"]}},
      "shape": {"field": "s", "type": "nominal", "title": null, "scale": {"domain": ["R₁","R₂","R₃","R₄"], "range": ["M-1.3,0H1.3M0.49,0A0.49,0.49,0,1,1,-0.49,0A0.49,0.49,0,1,1,0.49,0","M-1.3,0H1.3M0,-0.52L0.52,0.4L-0.52,0.4Z","M-1.3,0H1.3M-0.38,-0.38H0.38V0.38H-0.38Z","M-1.3,0H1.3"]}}}},
    {"data": {"values": [{}]}, "mark": {"type": "rect", "fill": "#ffffff", "stroke": "#262626", "strokeWidth": 1}, "encoding": {"x": {"datum": 298, "title": "Number of transactions"}, "x2": {"datum": 702}, "y": {"datum": 14.5, "title": "Credit level"}, "y2": {"datum": 0.8}}},
    {"data": {"values": [{}]}, "mark": {"type": "text", "fontSize": 18, "color": "#000000", "font": "Liberation Sans"}, "encoding": {"x": {"datum": 500, "title": "Number of transactions"}, "y": {"datum": 7.65, "title": "Credit level"}, "text": {"value": "V~αP+N(αP,3)"}}}
   ]},
   {"width": 329, "height": 248, "resolve": {"scale": {"color": "independent", "shape": "independent"}}, "layer": [
    {"data": {"name": "lines"}, "transform": [{"filter": "datum.g == 3"}], "mark": {"type": "line", "strokeWidth": 1.5},
     "encoding": {
      "x": {"field": "x", "type": "quantitative", "title": "Number of transactions", "scale": {"domain": [0, 1000], "nice": false, "zero": false}, "axis": {"values": [0,200,400,600,800,1000], "labelExpr": "'' + datum.value"}},
      "y": {"field": "y", "type": "quantitative", "title": "Credit level", "scale": {"domain": [-20, 100], "nice": false, "zero": false}, "axis": {"values": [-20,0,20,40,60,80,100], "labelExpr": "'' + datum.value", "titlePadding": 4}},
      "color": {"field": "s", "type": "nominal", "scale": {"domain": ["R₁","R₂","R₃","R₄"], "range": ["#0072BD","#D95319","#EDB120","#7E2F8E"]}, "legend": null}}},
    {"data": {"name": "lines"}, "transform": [{"filter": "datum.g == 3 && datum.s != 'R₄' && datum.x % 100 == 0"}], "mark": {"type": "point", "filled": false, "strokeWidth": 1.5, "size": 196, "opacity": 1},
     "encoding": {
      "x": {"field": "x", "type": "quantitative", "title": "Number of transactions"},
      "y": {"field": "y", "type": "quantitative", "title": "Credit level"},
      "color": {"field": "s", "type": "nominal", "scale": {"domain": ["R₁","R₂","R₃","R₄"], "range": ["#0072BD","#D95319","#EDB120","#7E2F8E"]}, "legend": null},
      "shape": {"field": "s", "type": "nominal", "scale": {"domain": ["R₁","R₂","R₃"], "range": ["circle","triangle-up","M-0.8,-0.8H0.8V0.8H-0.8Z"]}, "legend": null}}},
    {"data": {"name": "lines"}, "transform": [{"filter": "false"}], "mark": {"type": "point", "filled": false, "strokeWidth": 1.5},
     "encoding": {
      "x": {"field": "x", "type": "quantitative", "title": "Number of transactions"},
      "y": {"field": "y", "type": "quantitative", "title": "Credit level"},
      "color": {"field": "s", "type": "nominal", "title": null, "scale": {"domain": ["R₁","R₂","R₃","R₄"], "range": ["#0072BD","#D95319","#EDB120","#7E2F8E"]}},
      "shape": {"field": "s", "type": "nominal", "title": null, "scale": {"domain": ["R₁","R₂","R₃","R₄"], "range": ["M-1.3,0H1.3M0.49,0A0.49,0.49,0,1,1,-0.49,0A0.49,0.49,0,1,1,0.49,0","M-1.3,0H1.3M0,-0.52L0.52,0.4L-0.52,0.4Z","M-1.3,0H1.3M-0.38,-0.38H0.38V0.38H-0.38Z","M-1.3,0H1.3"]}}}},
    {"data": {"values": [{}]}, "mark": {"type": "rect", "fill": "#ffffff", "stroke": "#262626", "strokeWidth": 1}, "encoding": {"x": {"datum": 287, "title": "Number of transactions"}, "x2": {"datum": 691}, "y": {"datum": 24.5, "title": "Credit level"}, "y2": {"datum": 11}}},
    {"data": {"values": [{}]}, "mark": {"type": "text", "fontSize": 18, "color": "#000000", "font": "Liberation Sans"}, "encoding": {"x": {"datum": 489, "title": "Number of transactions"}, "y": {"datum": 17.75, "title": "Credit level"}, "text": {"value": "V~αP+N(αP,5)"}}}
   ]}
  ]
 }
]
}
